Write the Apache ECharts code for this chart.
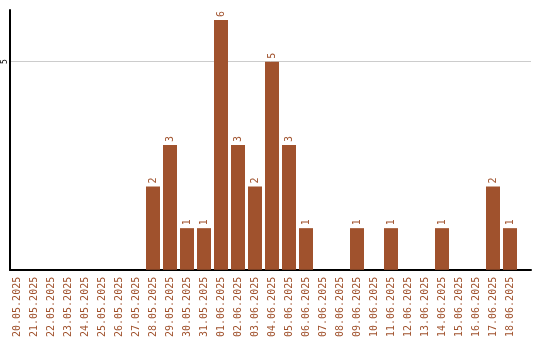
<!DOCTYPE html>
<html><head><meta charset="utf-8">
<script src="https://cdn.jsdelivr.net/npm/echarts@6/dist/echarts.min.js"></script>
<style>html,body{margin:0;padding:0;background:#fff}#c{width:540px;height:340px}</style>
</head><body><div id="c"></div>
<script>
const categories = ["20.05.2025","21.05.2025","22.05.2025","23.05.2025","24.05.2025","25.05.2025","26.05.2025","27.05.2025","28.05.2025","29.05.2025","30.05.2025","31.05.2025","01.06.2025","02.06.2025","03.06.2025","04.06.2025","05.06.2025","06.06.2025","07.06.2025","08.06.2025","09.06.2025","10.06.2025","11.06.2025","12.06.2025","13.06.2025","14.06.2025","15.06.2025","16.06.2025","17.06.2025","18.06.2025"];
const values = [0,0,0,0,0,0,0,0,2,3,1,1,6,3,2,5,3,1,0,0,1,0,1,0,0,1,0,0,2,1];
const yTicks = [5];
const brown = '#A0522D';
const font = 'DejaVu Sans Mono';
const yMax = 6.24;
const chart = echarts.init(document.getElementById('c'));
chart.setOption({
  animation: false,
  grid: [
    {left: 8.5, width: 510, top: 10, height: 260},
    {left: 10, right: 9, top: 10, height: 260}
  ],
  xAxis: [
    {type: 'category', gridIndex: 0, data: categories,
     axisLine: {show: false}, axisTick: {show: false},
     axisLabel: {rotate: 90, interval: 0, color: brown, fontFamily: font, fontSize: 10, margin: 7}},
    {type: 'category', gridIndex: 1, data: [''], boundaryGap: false,
     axisLine: {show: true, lineStyle: {color: '#000', width: 2}}, axisTick: {show: false},
     axisLabel: {show: false}, splitLine: {show: false}}
  ],
  yAxis: [
    {type: 'value', gridIndex: 0, min: 0, max: yMax, show: false},
    {type: 'value', gridIndex: 1, min: 0, max: yMax, interval: 5,
     axisLine: {show: true, lineStyle: {color: '#000', width: 2}}, axisTick: {show: false},
     axisLabel: {rotate: 90, color: '#000', fontFamily: font, fontSize: 8, margin: 1,
       showMinLabel: false, showMaxLabel: false,
       formatter: v => yTicks.includes(v) ? String(v) : ''},
     splitLine: {show: true, showMinLine: false, showMaxLine: false, lineStyle: {color: '#cccccc', width: 1}}}
  ],
  series: [{
    type: 'bar', xAxisIndex: 0, yAxisIndex: 0, data: values, barWidth: 14, z: 5,
    itemStyle: {color: brown},
    label: {show: true, position: 'top', rotate: 90, align: 'left', verticalAlign: 'middle',
      distance: 3, color: brown, fontFamily: font, fontSize: 10,
      formatter: p => p.value ? String(p.value) : ''}
  }]
});
</script></body></html>
